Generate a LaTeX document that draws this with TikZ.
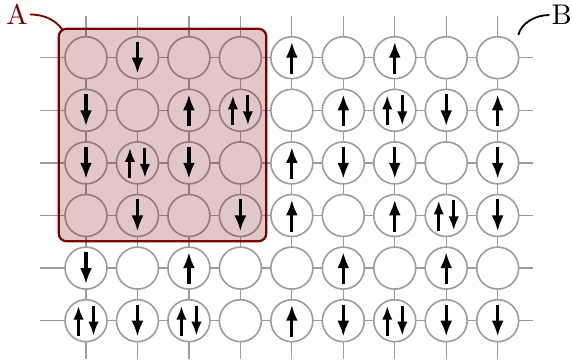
\documentclass[tikz,border=0pt]{standalone}
\usepackage{fontspec}
\usepackage{xcolor}
\usepackage{tikz}
\usetikzlibrary{arrows.meta,calc}
\newfontfamily\labelfont{lmroman10-regular}[Extension=.otf]
\definecolor{regioncolor}{HTML}{7A0000}
\definecolor{bondcolor}{HTML}{9C9C9C}
\definecolor{ink}{HTML}{000000}
\tikzset{
  bond/.style={draw=bondcolor,line width=1.3pt},
  site/.style={
    circle,
    draw=bondcolor,
    line width=1.6pt,
    fill=white,
    minimum size=42pt,
    inner sep=0pt
  },
  regionbox/.style={
    draw=regioncolor,
    line width=2.2pt,
    rounded corners=8pt,
    fill=regioncolor,
    fill opacity=0.22,
    inner sep=0pt
  },
  labeltext/.style={font=\labelfont\fontsize{28.5}{28.5}\selectfont,inner sep=2pt},
  leaderA/.style={draw=regioncolor,line width=1.8pt},
  leaderB/.style={draw=ink,line width=1.8pt},
  spinarrow/.style={-{Latex[length=16pt,width=12pt]},line width=3.2pt,draw=ink},
  pairarrow/.style={-{Latex[length=14pt,width=10.5pt]},line width=3pt,draw=ink},
  pics/spin0/.style={code={}},
  pics/spinu/.style={code={\draw[spinarrow] (0,16) -- (0,-16);}},
  pics/spind/.style={code={\draw[spinarrow] (0,-16) -- (0,16);}},
  pics/spin2/.style={code={
    \draw[pairarrow] (-7.5,15) -- (-7.5,-15);
    \draw[pairarrow] (7.5,-15) -- (7.5,15);}}
}
% occupation of the lattice, one row per line
\def\spinrows{1/{0,d,0,0,u,0,u,0,0},
  2/{d,0,u,2,0,u,2,d,u},
  3/{d,2,d,0,u,d,d,0,d},
  4/{0,d,0,d,u,0,u,2,d},
  5/{d,0,u,0,0,u,0,u,0},
  6/{2,d,2,0,u,d,2,d,d}}

\begin{document}
\begin{tikzpicture}[x=1pt,y=-1pt]
  \useasboundingbox (0,0) rectangle (572,363);
  % lattice bonds
  \foreach \c in {1,...,9} {
    \coordinate (top-\c) at ({86+51.46*(\c-1)},16);
    \coordinate (bot-\c) at ({86+51.46*(\c-1)},359);
    \draw[bond] (top-\c) -- (bot-\c);
  }
  \foreach \r in {1,...,6} {
    \coordinate (west-\r) at (40,{57.7+52.6*(\r-1)});
    \coordinate (east-\r) at (533,{57.7+52.6*(\r-1)});
    \draw[bond] (west-\r) -- (east-\r);
  }
  % sites
  \foreach \r in {1,...,6}
    \foreach \c in {1,...,9}
      \node[site] (s-\r-\c) at ({86+51.46*(\c-1)},{57.7+52.6*(\r-1)}) {};
  % region A
  \node[regionbox,minimum width=207.6pt,minimum height=212.6pt] (boxA) at (162.5,135) {};
  % spins
  \foreach \r/\row in \spinrows
    \foreach \s [count=\c] in \row
      \pic at (s-\r-\c) {spin\s};
  % labels
  \node[labeltext,text=regioncolor] (labA) at (17,14.5) {A};
  \node[labeltext,text=ink] (labB) at (561.7,15) {B};
  \coordinate (tipB) at (518.3,35);
  \draw[leaderA] (labA.east) .. controls +(16,0) and +(-6,-9) .. ([shift={(5,2.5)}]boxA.north west);
  \draw[leaderB] (tipB) .. controls +(3,-12) and +(-14,0) .. (labB.west);
\end{tikzpicture}
\end{document}
